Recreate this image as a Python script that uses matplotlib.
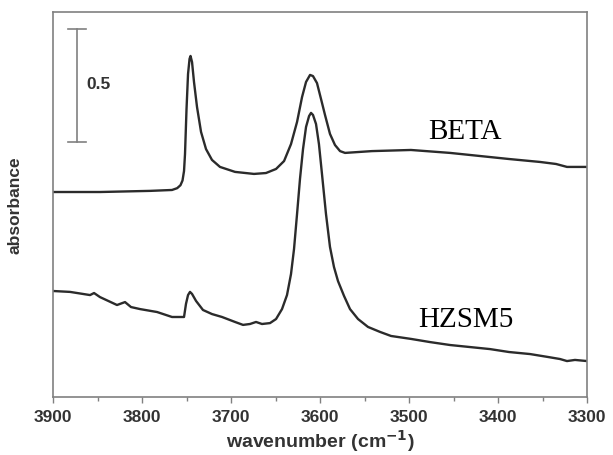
import matplotlib
matplotlib.use("Agg")
import matplotlib.pyplot as plt
from matplotlib.ticker import MultipleLocator

# spectra: wavenumber (cm-1), absorbance (offset)
beta_wn = [3900, 3847.2, 3791.0, 3766.3, 3760.5, 3756.8, 3754.5, 3752.8, 3751.7,
           3750.0, 3748.3, 3746.6, 3745.5, 3743.8, 3741.6, 3738.2, 3733.7, 3728.1,
           3721.4, 3712.4, 3695.5, 3674.2, 3660.7, 3649.4, 3640.4, 3632.6, 3625.8,
           3620.2, 3615.7, 3611.2, 3607.9, 3603.4, 3598.9, 3594.4, 3588.8, 3583.2,
           3577.5, 3571.9, 3541.6, 3497.8, 3453.9, 3387.6, 3352.8, 3334.8, 3322.5,
           3300]
beta_abs = [0.907, 0.907, 0.912, 0.916, 0.924, 0.937, 0.958, 1.000, 1.075,
            1.274, 1.429, 1.496, 1.509, 1.482, 1.394, 1.283, 1.173, 1.097,
            1.049, 1.018, 0.996, 0.987, 0.991, 1.009, 1.044, 1.119, 1.217,
            1.327, 1.394, 1.425, 1.420, 1.389, 1.319, 1.248, 1.164, 1.115,
            1.088, 1.080, 1.088, 1.093, 1.080, 1.053, 1.040, 1.031, 1.018,
            1.018]

hzsm5_wn = [3900, 3880.9, 3858.4, 3853.9, 3847.2, 3828.1, 3819.1, 3812.4, 3802.2,
            3783.1, 3766.3, 3752.8, 3750.6, 3748.3, 3746.1, 3743.8, 3739.3, 3731.5,
            3721.4, 3710.1, 3695.5, 3686.5, 3678.7, 3671.9, 3665.2, 3656.2, 3649.4,
            3642.7, 3637.1, 3632.6, 3629.2, 3625.8, 3622.5, 3619.1, 3615.7, 3612.3,
            3610.1, 3607.9, 3604.5, 3601.2, 3597.8, 3593.3, 3588.8, 3584.3, 3579.8,
            3573.0, 3566.3, 3557.3, 3546.1, 3532.6, 3520.2, 3497.8, 3476.4, 3453.9,
            3431.5, 3409.0, 3387.6, 3364.0, 3343.8, 3330.3, 3322.5, 3313.5, 3300]
hzsm5_abs = [0.469, 0.465, 0.451, 0.460, 0.442, 0.407, 0.420, 0.398, 0.389,
             0.376, 0.354, 0.354, 0.412, 0.451, 0.465, 0.456, 0.425, 0.385,
             0.367, 0.354, 0.332, 0.319, 0.323, 0.332, 0.323, 0.327, 0.345,
             0.389, 0.451, 0.544, 0.655, 0.810, 0.965, 1.097, 1.195, 1.243,
             1.257, 1.248, 1.208, 1.119, 0.987, 0.810, 0.664, 0.575, 0.513,
             0.447, 0.389, 0.345, 0.310, 0.288, 0.270, 0.257, 0.243, 0.230,
             0.221, 0.212, 0.199, 0.190, 0.177, 0.168, 0.159, 0.164, 0.159]

x_ticks = [3900, 3800, 3700, 3600, 3500, 3400, 3300]
scale_len = 0.5

line_col = "#2b2b2b"
frame_col = "#808080"

fig = plt.figure(figsize=(6.13, 4.56), dpi=100)
ax = fig.add_axes([0.0865, 0.1272, 0.8711, 0.8443])

ax.plot(beta_wn, beta_abs, color=line_col, lw=1.7)
ax.plot(hzsm5_wn, hzsm5_abs, color=line_col, lw=1.7)

ax.set_xlim(3900, 3300)
ax.set_ylim(0, 1.7035)
ax.set_xticks(x_ticks)
ax.xaxis.set_minor_locator(MultipleLocator(50))
ax.set_yticks([])
ax.tick_params(axis="x", which="major", direction="out", length=4, width=1,
               color=frame_col, labelsize=12.5, labelcolor="#333333", pad=5)
ax.tick_params(axis="x", which="minor", direction="out", length=3, width=1,
               color=frame_col)
for lab in ax.get_xticklabels():
    lab.set_fontweight("bold")
    lab.set_family("Liberation Sans")
for sp in ax.spines.values():
    sp.set_color(frame_col)
    sp.set_linewidth(1.2)

ax.set_xlabel("wavenumber (cm$^{\\mathbf{-1}}$)", fontsize=14, fontweight="bold",
              family="Liberation Sans", color="#333333", labelpad=2)
ax.set_ylabel("absorbance", fontsize=12.5, fontweight="bold",
              family="Liberation Sans", color="#333333", labelpad=22)

# scale bar
bar_x, bar_top = 3873, 1.628
ax.plot([bar_x, bar_x], [bar_top, bar_top - scale_len], color=frame_col, lw=1.2)
for yy in (bar_top, bar_top - scale_len):
    ax.plot([bar_x - 10, bar_x + 10], [yy, yy], color=frame_col, lw=1.2)
ax.text(bar_x - 10, bar_top - scale_len / 2 + 0.01, "0.5", fontsize=12.5,
        fontweight="bold", family="Liberation Sans", color="#333333",
        ha="left", va="center")

ax.text(3437, 1.178, "BETA", fontsize=21, family="Liberation Serif",
        ha="center", va="center", color="black")
ax.text(3436, 0.345, "HZSM5", fontsize=21, family="Liberation Serif",
        ha="center", va="center", color="black")

fig.savefig("out.png", dpi=100)
